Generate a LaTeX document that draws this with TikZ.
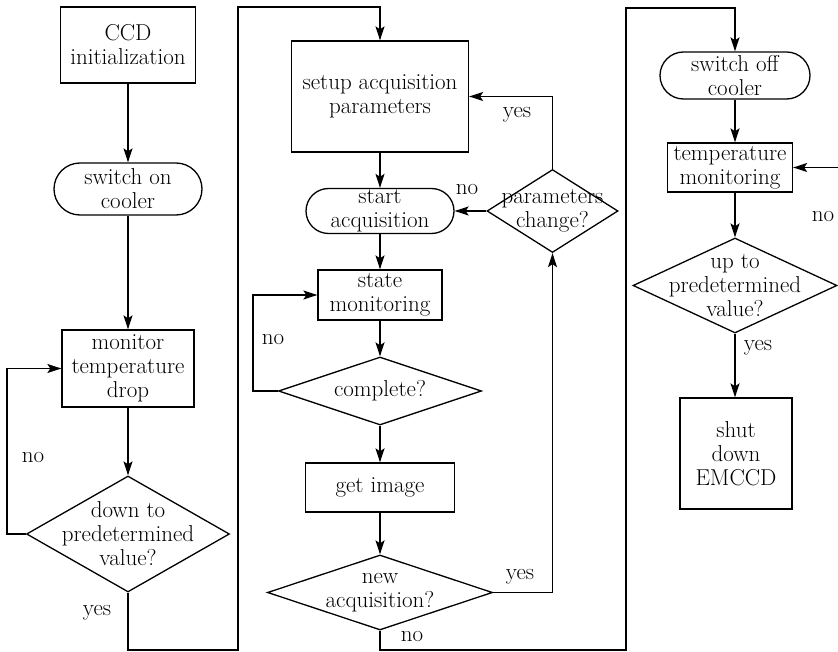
\documentclass[tikz,border=0pt]{standalone}
\usetikzlibrary{shapes.geometric,arrows.meta}
\begin{document}
\begin{tikzpicture}[x=1pt,y=-1pt,
  font=\fontsize{23}{24}\selectfont,
  line width=1.3pt,
  box/.style={draw, rectangle, align=center, inner sep=0pt},
  stad/.style={draw, rectangle, rounded corners=#1, align=center, inner sep=0pt},
  dia/.style={draw, diamond, inner sep=0pt},
  dtext/.style={align=center, inner sep=0pt},
  arr/.style={-{Stealth[length=14pt,width=9pt,inset=3pt]}},
  lbl/.style={inner sep=0pt}]
\useasboundingbox (0,0) rectangle (838,652);
\clip (0,0) rectangle (838,652);

% column 1
\node[box, minimum width=135, minimum height=76] (init) at (128,45) {CCD\\initialization};
\node[stad=26pt, minimum width=148, minimum height=52] (son) at (128,189) {switch on\\cooler};
\node[box, minimum width=132, minimum height=77] (mon) at (128,368.5) {monitor\\temperature\\drop};
\node[dia, minimum width=203, minimum height=116] (d1) at (128,534) {};
\node[dtext] (d1t) at (d1) {down to\\predetermined\\value?};

% column 2
\node[box, minimum width=177, minimum height=111] (setup) at (380,96.5) {setup acquisition\\parameters};
\node[stad=22.5pt, minimum width=148, minimum height=45] (sa) at (380,211) {start\\acquisition};
\node[box, minimum width=124, minimum height=50] (sm) at (380,295) {state\\monitoring};
\node[dia, minimum width=203, minimum height=68] (cm) at (380,391) {};
\node[dtext] (cmt) at (cm) {complete?};
\node[box, minimum width=149, minimum height=49] (gi) at (380,487.5) {get image};
\node[dia, minimum width=225, minimum height=75] (na) at (380,592.5) {};
\node[dtext] (nat) at (na) {new\\acquisition?};
\node[dia, minimum width=131, minimum height=83] (pc) at (552.5,211) {};
\node[dtext] (pct) at (pc) {parameters\\change?};

% column 3
\node[stad=23.5pt, minimum width=150, minimum height=47] (so) at (735,75.5) {switch off\\cooler};
\node[box, minimum width=125, minimum height=49] (tm) at (730,167.5) {temperature\\monitoring};
\node[dia, minimum width=204, minimum height=95] (d3) at (735,285.5) {};
\node[dtext] (d3t) at (d3) {up to\\predetermined\\value?};
\node[box, minimum width=112, minimum height=111] (sd) at (736,453.5) {shut\\down\\EMCCD};

% bend points
\coordinate (b1) at (238,650);
\coordinate (b2) at (238,7);
\coordinate (b3) at (626,650);
\coordinate (b4) at (626,8);
\coordinate (b5) at (850,285.5);

% connectors column 1
\draw[arr] (init) -- (son);
\draw[arr] (son) -- (mon);
\draw[arr] (mon) -- (d1);
\draw[arr] (d1.west) -- ++(-19,0) |- (mon.west);
\draw[arr] (d1.south) |- (b1) -- (b2) -| (setup.north);

% connectors column 2
\draw[arr] (setup) -- (sa);
\draw[arr] (sa) -- (sm);
\draw[arr] (sm) -- (cm);
\draw[arr] (cm.west) -- ++(-25,0) |- (sm.west);
\draw[arr] (cm) -- (gi);
\draw[arr] (gi) -- (na);
\draw[arr] (na.east) -| (pc.south);
\draw[arr] (pc.north) |- (setup.east);
\draw[arr] (pc.west) -- (sa.east);
\draw[arr] (na.south) |- (b3) -- (b4) -| (so.north);

% connectors column 3
\draw[arr] (so.south) -- (so.south |- tm.north);
\draw[arr] (so.south |- tm.south) -- (d3.north);
\draw[arr] (d3.east) -- (b5) |- (tm.east);
\draw[arr] (d3.south) -- (d3.south |- sd.north);

% labels
\node[lbl] at (33,458) {no};
\node[lbl] at (97,613) {yes};
\node[lbl] at (273,340) {no};
\node[lbl] at (467,190) {no};
\node[lbl] at (517,115) {yes};
\node[lbl] at (520,577) {yes};
\node[lbl] at (412,637) {no};
\node[lbl] at (823,217) {no};
\node[lbl] at (758,348) {yes};
\end{tikzpicture}
\end{document}
